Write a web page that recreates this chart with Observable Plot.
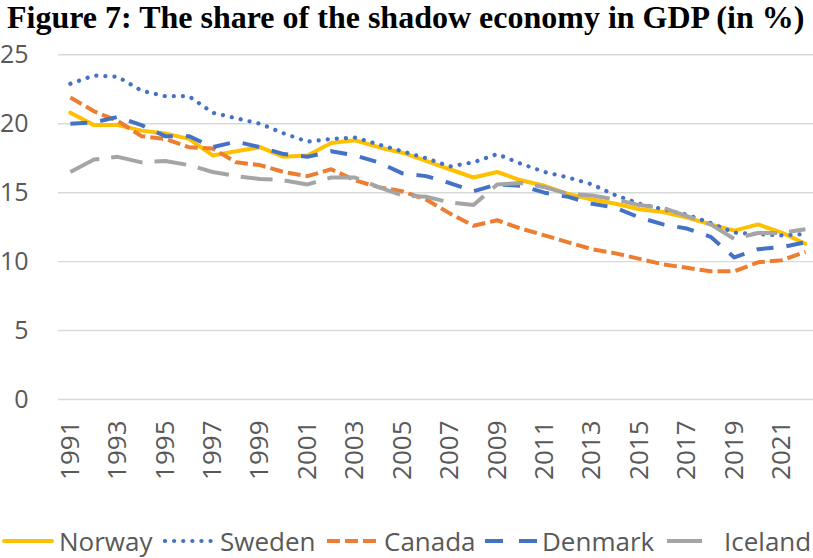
<!DOCTYPE html>
<html>
<head>
<meta charset="utf-8">
<script src="https://cdn.jsdelivr.net/npm/d3@7"></script>
<script src="https://cdn.jsdelivr.net/npm/@observablehq/plot@0.6"></script>
<style>
  html, body { margin: 0; padding: 0; background: #fff; }
  #wrap { position: relative; width: 813px; height: 558px; overflow: hidden; background: #fff; }
  #title { position: absolute; left: 7px; top: 1px; margin: 0; white-space: nowrap;
    font-family: "Liberation Serif", "Times New Roman", serif; font-weight: bold;
    font-size: 32px; line-height: 32px; color: #000; }
  #chart { position: absolute; left: 0; top: 40px; }
  .leg { position: absolute; top: 526px; height: 30px; line-height: 30px; display: flex; align-items: center;
    font-family: "Open Sans", sans-serif; font-size: 26px; color: #595959; white-space: nowrap; }
  .leg svg { display: block; margin-right: 5px; }
</style>
</head>
<body>
<div id="wrap">
  <div id="title">Figure 7: The share of the shadow economy in GDP (in %)</div>
  <div id="chart"></div>
  <div id="legend"></div>
</div>
<script>
const years = [1991, 1992, 1993, 1994, 1995, 1996, 1997, 1998, 1999, 2000, 2001, 2002, 2003, 2004, 2005, 2006,
               2007, 2008, 2009, 2010, 2011, 2012, 2013, 2014, 2015, 2016, 2017, 2018, 2019, 2020, 2021, 2022];
const xTickYears = [1991, 1993, 1995, 1997, 1999, 2001, 2003, 2005, 2007, 2009, 2011, 2013, 2015, 2017, 2019, 2021];
const yTicks = [0, 5, 10, 15, 20, 25];
const seriesNames = ["Norway", "Sweden", "Canada", "Denmark", "Iceland"];

const norway  = [20.8, 19.9, 19.9, 19.5, 19.3, 18.9, 17.7, 18.0, 18.3, 17.6, 17.7, 18.6, 18.8, 18.3, 17.9, 17.3,
                 16.7, 16.1, 16.5, 15.9, 15.5, 14.9, 14.5, 14.2, 13.8, 13.6, 13.2, 12.7, 12.25, 12.7, 12.1, 11.3];
const sweden  = [22.9, 23.5, 23.4, 22.4, 22.0, 22.0, 20.8, 20.4, 20.0, 19.3, 18.7, 18.9, 19.0, 18.5, 18.0, 17.5,
                 16.9, 17.2, 17.8, 17.1, 16.5, 16.1, 15.6, 14.8, 14.2, 13.8, 13.4, 12.8, 12.1, 12.0, 11.9, 12.0];
const canada  = [21.9, 20.9, 20.2, 19.1, 18.9, 18.3, 18.2, 17.2, 17.0, 16.5, 16.2, 16.7, 15.9, 15.4, 15.1, 14.5,
                 13.5, 12.6, 13.0, 12.4, 11.9, 11.4, 10.9, 10.6, 10.2, 9.8, 9.55, 9.3, 9.3, 9.95, 10.1, 10.7];
const denmark = [20.0, 20.1, 20.5, 19.9, 19.1, 19.1, 18.3, 18.7, 18.3, 17.8, 17.6, 18.0, 17.7, 17.2, 16.4, 16.2,
                 15.7, 15.1, 15.6, 15.5, 15.0, 14.7, 14.2, 13.9, 13.2, 12.7, 12.4, 11.8, 10.3, 10.9, 11.05, 11.4];
const iceland = [16.5, 17.4, 17.6, 17.2, 17.3, 17.0, 16.5, 16.2, 16.0, 15.9, 15.6, 16.1, 16.1, 15.4, 14.8, 14.7,
                 14.3, 14.1, 15.6, 15.7, 15.4, 14.9, 14.8, 14.5, 14.1, 13.9, 13.3, 12.7, 11.65, 12.08, 12.08, 12.35];

const seriesValues = [norway, sweden, canada, denmark, iceland];

// styles (kept apart from the data)
const styles = {
  Norway:  {stroke: "#FFC000", dash: null,    legendDash: null,    cap: "round", width: 4},
  Sweden:  {stroke: "#4472C4", dash: "0.1 9", legendDash: "0.1 9", cap: "round", width: 4.2},
  Canada:  {stroke: "#ED7D31", dash: "13 5",  legendDash: "13 5",  cap: "butt",  width: 4},
  Denmark: {stroke: "#4472C4", dash: "17 13", legendDash: "18 16", cap: "butt",  width: 4},
  Iceland: {stroke: "#A5A5A5", dash: "32 12", legendDash: "35 20", cap: "butt",  width: 4}
};
const legendLeft = {Norway: 2, Sweden: 163, Canada: 327, Denmark: 485, Iceland: 667};

const lineMarks = seriesNames.map((name, s) => {
  const data = years.map((yr, i) => ({year: yr, value: seriesValues[s][i]}));
  const st = styles[name];
  return Plot.line(data, {
    x: "year", y: "value",
    stroke: st.stroke, strokeWidth: st.width,
    strokeDasharray: st.dash || undefined,
    strokeLinecap: st.cap, strokeLinejoin: "round"
  });
});

const chart = Plot.plot({
  width: 813,
  height: 460,
  marginTop: 14.3,
  marginBottom: 101,
  marginLeft: 58,
  marginRight: 0,
  x: {type: "linear", domain: [1990.5, 2022.34]},
  y: {domain: [0, 25]},
  style: {fontFamily: "'Open Sans', sans-serif", color: "#595959", background: "white", overflow: "visible"},
  marks: [
    Plot.gridY(yTicks, {stroke: "#D9D9D9", strokeOpacity: 1, strokeWidth: 1.4}),
    Plot.axisY(yTicks, {tickSize: 0, tickPadding: 30, fontSize: 25, fill: "#595959", label: null}),
    Plot.axisX(xTickYears, {tickSize: 0, tickPadding: 21, tickRotate: -90, fontSize: 26, fill: "#595959",
      tickFormat: d => String(d), label: null}),
    ...lineMarks
  ]
});
document.getElementById("chart").appendChild(chart);

// legend
const legend = document.getElementById("legend");
seriesNames.forEach(name => {
  const st = styles[name];
  const item = document.createElement("div");
  item.className = "leg";
  item.style.left = legendLeft[name] + "px";
  const svgNS = "http://www.w3.org/2000/svg";
  const svg = document.createElementNS(svgNS, "svg");
  svg.setAttribute("width", "52");
  svg.setAttribute("height", "10");
  const ln = document.createElementNS(svgNS, "line");
  ln.setAttribute("x1", st.cap === "round" ? 2 : 0);
  ln.setAttribute("x2", st.cap === "round" ? 50 : 52);
  ln.setAttribute("y1", 5); ln.setAttribute("y2", 5);
  ln.setAttribute("stroke", st.stroke);
  ln.setAttribute("stroke-width", st.width);
  ln.setAttribute("stroke-linecap", st.cap);
  if (st.legendDash) ln.setAttribute("stroke-dasharray", st.legendDash);
  svg.appendChild(ln);
  item.appendChild(svg);
  const span = document.createElement("span");
  span.textContent = name;
  item.appendChild(span);
  legend.appendChild(item);
});
</script>
</body>
</html>
